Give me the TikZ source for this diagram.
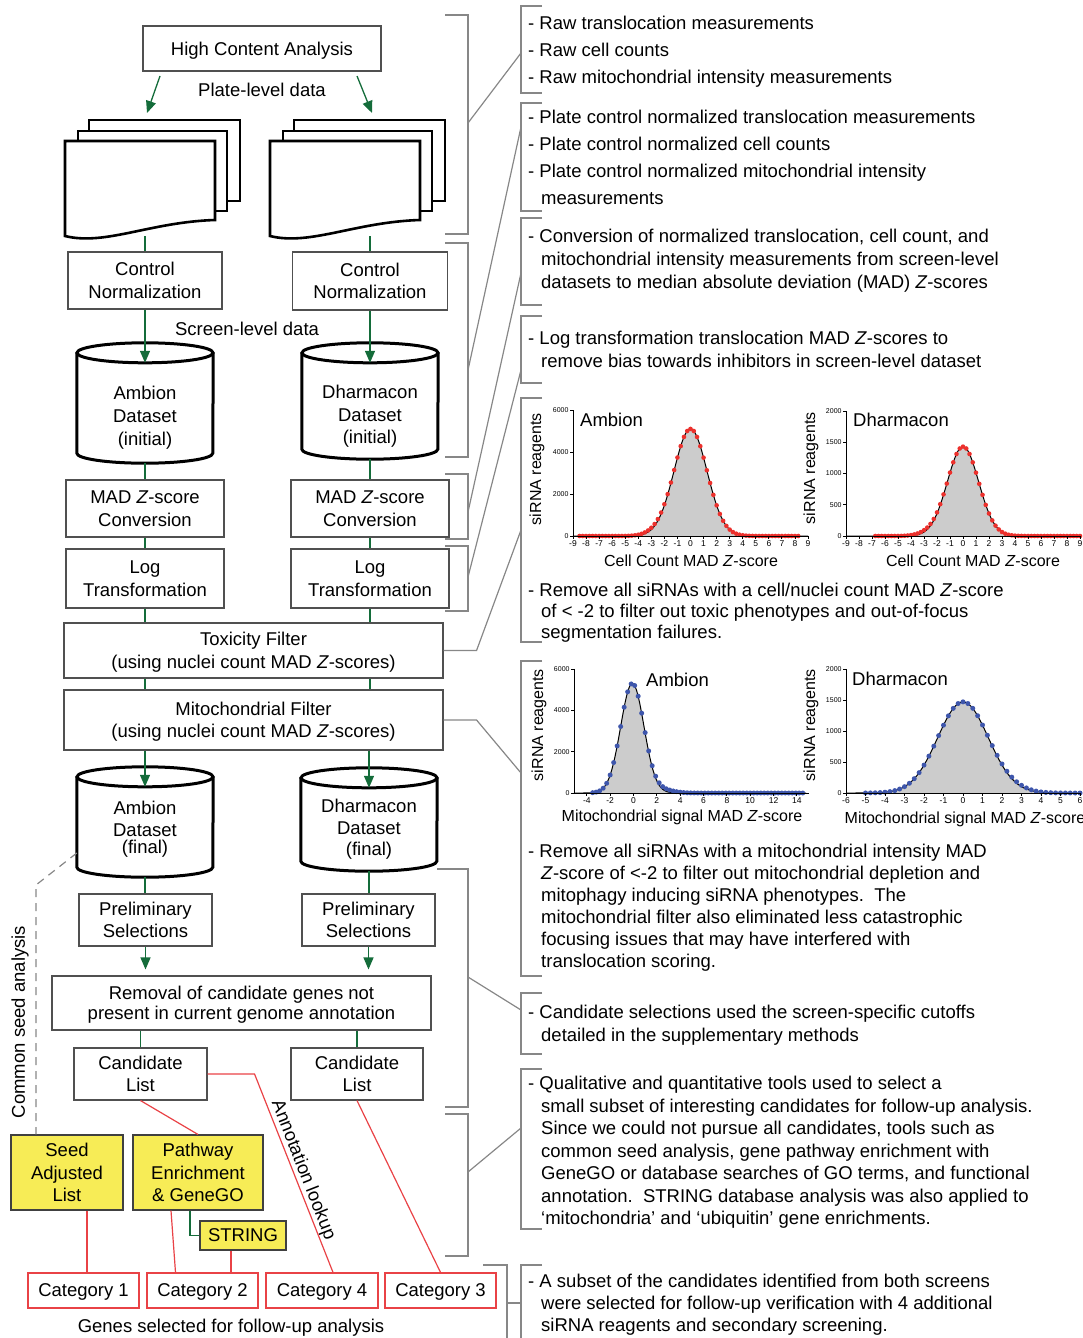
\documentclass[tikz,border=0pt]{standalone}
\usepackage{fontspec}
\setmainfont{Liberation Sans}
\usetikzlibrary{arrows.meta}

\definecolor{flowgreen}{RGB}{20,108,58}
\definecolor{catred}{RGB}{233,66,70}
\definecolor{hiyellow}{RGB}{247,236,86}
\definecolor{boxgray}{RGB}{80,80,80}
\definecolor{brkgray}{RGB}{135,135,135}
\definecolor{dotred}{RGB}{236,48,44}
\definecolor{dotblue}{RGB}{62,86,172}
\definecolor{chartfill}{RGB}{204,204,204}

\tikzset{
    box/.style={draw=boxgray, line width=1.1pt, align=center, inner sep=0pt, minimum height=57pt, text depth=-4pt},
    hibox/.style={box, draw=black!75, fill=hiyellow},
    catbox/.style={draw=catred, line width=1.3pt, inner sep=0pt, minimum width=111pt, minimum height=35pt, text depth=-4pt},
    cylbody/.style={inner sep=0pt, minimum width=136pt},
    cyltext/.style={align=center, inner sep=0pt},
    sheetarea/.style={inner sep=0pt, minimum width=150pt, minimum height=95pt},
    sheet/.style={draw=black, line width=2.6pt, fill=white},
    cylline/.style={draw=black, line width=3pt},
    flow/.style={draw=flowgreen, line width=1.3pt},
    flowarrow/.style={flow, -{Triangle[length=12pt, width=10pt]}},
    redline/.style={draw=catred, line width=1.2pt},
    brk/.style={draw=brkgray, line width=1.2pt},
    note/.style={anchor=north west, inner sep=0pt, align=left},
    axis/.style={draw=black, line width=0.9pt},
    fitline/.style={draw=black, line width=1pt},
    ticklab/.style={font=\fontsize{8.5}{10}\selectfont, inner sep=1pt},
    valab/.style={font=\fontsize{7}{8}\selectfont, inner sep=1pt},
    axtitle/.style={font=\fontsize{16}{18}\selectfont, inner sep=0pt}
}

\begin{document}
\begin{tikzpicture}[x=1pt, y=-1pt, font=\fontsize{18.5}{22.5}\selectfont]

            %\draw [help lines, step=50] (0,0) grid (1083,1338);
            \useasboundingbox (0,0) rectangle (1083,1338);

            \foreach \dx in {0,205} {
                \draw[sheet] (89+\dx,120) rectangle (240+\dx,201);
                \draw[sheet] (78+\dx,131) rectangle (227+\dx,211);
                \draw[sheet] (65+\dx,141) -- (215+\dx,141) -- (215+\dx,220)
                    .. controls (150+\dx,222) and (105+\dx,246) .. (65+\dx,236) -- cycle;
            }

            \path   (262,48.5) node (hca) [box, minimum width=238pt, minimum height=45pt] {High Content Analysis}
                    (262,90) node (pld) [] {Plate-level data}
                    (160,76) coordinate (ha)  (147,113) coordinate (hb)
                    (357,76) coordinate (hc)  (372,113) coordinate (hd)
                    (140,188.5) node (sl) [sheetarea] {}
                    (345,188.5) node (sr) [sheetarea] {}
                    (145,280.5) node (cnl) [box, minimum width=154pt] {Control\\Normalization}
                    (370,281) node (cnr) [box, minimum width=155pt, minimum height=58pt] {Control\\Normalization}
                    (247,329) node (sld) [] {Screen-level data}
                    (145,413) node (ai) [cylbody, minimum height=100pt] {}
                    (370,411) node (di) [cylbody, minimum height=96pt] {}
                    (145,418) node (ait) [cyltext, font=\fontsize{18.5}{23}\selectfont] {Ambion\\Dataset\\(initial)}
                    (370,416.5) node (dit) [cyltext, font=\fontsize{18.5}{22.5}\selectfont] {Dharmacon\\Dataset\\(initial)}
                    (145,508.5) node (mzl) [box, minimum width=158pt] {MAD \textit{Z}-score\\Conversion}
                    (370,508.5) node (mzr) [box, minimum width=158pt] {MAD \textit{Z}-score\\Conversion}
                    (145,578.5) node (ltl) [box, minimum width=158pt, minimum height=59pt] {Log\\Transformation}
                    (370,578.5) node (ltr) [box, minimum width=158pt, minimum height=59pt] {Log\\Transformation}
                    (253.5,650.5) node (tox) [box, minimum width=379pt, minimum height=55pt] {Toxicity Filter\\(using nuclei count MAD \textit{Z}-scores)}
                    (253.5,720) node (mito) [box, minimum width=379pt, minimum height=60pt] {Mitochondrial Filter\\(using nuclei count MAD \textit{Z}-scores)}
                    (145,832) node (af) [cylbody, minimum height=90pt] {}
                    (369,829.5) node (df) [cylbody, minimum height=83pt] {}
                    (145,829.5) node (aft) [cyltext, font=\fontsize{18.5}{22}\selectfont] {Ambion\\Dataset\\[-5pt](final)}
                    (369,829.5) node (dft) [cyltext, font=\fontsize{18.5}{21.5}\selectfont] {Dharmacon\\Dataset\\(final)}
                    (145.5,920) node (psl) [box, minimum width=133pt, minimum height=52pt] {Preliminary\\Selections}
                    (368.5,920) node (psr) [box, minimum width=133pt, minimum height=52pt] {Preliminary\\Selections}
                    (241.5,1003) node (rem) [box, minimum width=379pt, minimum height=54pt, font=\fontsize{18.5}{19.5}\selectfont] {Removal of candidate genes not\\present in current genome annotation}
                    (140.5,1074) node (cll) [box, minimum width=133pt, minimum height=52pt] {Candidate\\List}
                    (357,1074) node (clr) [box, minimum width=132pt, minimum height=52pt] {Candidate\\List}
                    (67,1172.5) node (seed) [hibox, minimum width=112pt, minimum height=75pt] {Seed\\Adjusted\\List}
                    (198,1172.5) node (pwy) [hibox, minimum width=130pt, minimum height=75pt] {Pathway\\Enrichment\\\& GeneGO}
                    (243,1235.5) node (str) [hibox, minimum width=86pt, minimum height=29pt] {STRING}
                    (83.5,1290.5) node (c1) [catbox] {Category 1}
                    (202.5,1290.5) node (c2) [catbox] {Category 2}
                    (322,1290.5) node (c4) [catbox, minimum width=112pt] {Category 4}
                    (440.5,1290.5) node (c3) [catbox] {Category 3}
                    (231,1328) node (gsf) [] {Genes selected for follow-up analysis}
                    (20,1022) node (csa) [rotate=90] {Common seed analysis}
                    (303,1170) node (anl) [rotate=-68.6] {Annotation lookup};

            \foreach \c in {ai,di,af,df} {
                \draw[cylline] ([yshift=10pt]\c.north) ellipse [x radius=68pt, y radius=10pt];
                \draw[cylline] ([yshift=10pt]\c.north west) -- ([yshift=10pt]\c.south west)
                    arc [start angle=180, end angle=360, x radius=68pt, y radius=10pt] -- ([yshift=10pt]\c.north east);
            }

            \draw[flowarrow] (ha) -- (hb);
            \draw[flowarrow] (hc) -- (hd);
            \draw[flow] (sl.south -| cnl.north) -- (cnl.north);
            \draw[flow] (sr.south -| cnr.north) -- (cnr.north);
            \draw[flowarrow] (cnl.south) -- (ai.north);
            \draw[flowarrow] (cnr.south) -- (di.north);
            \draw[flow] (ai.south) -- (mzl.north);
            \draw[flow] (di.south) -- (mzr.north);
            \draw[flow] (mzl.south) -- (ltl.north);
            \draw[flow] (mzr.south) -- (ltr.north);
            \draw[flow] (ltl.south) -- (ltl.south |- tox.north);
            \draw[flow] (ltr.south) -- (ltr.south |- tox.north);
            \draw[flow] (tox.south -| ltl.south) -- (mito.north -| ltl.south);
            \draw[flow] (tox.south -| ltr.south) -- (mito.north -| ltr.south);
            \draw[flowarrow] (mito.south -| af.north) -- (af.north);
            \draw[flowarrow] (mito.south -| df.north) -- (df.north);
            \draw[flow] (af.south) -- (af.south |- psl.north);
            \draw[flow] (df.south) -- (df.south |- psr.north);
            \draw[flowarrow, shorten >=6pt] (psl.south) -- (psl.south |- rem.north);
            \draw[flowarrow, shorten >=6pt] (psr.south) -- (psr.south |- rem.north);
            \draw[flow] (rem.south -| cll.north) -- (cll.north);
            \draw[flow] (rem.south -| clr.north) -- (clr.north);
            \draw[flow] ([xshift=-8pt]pwy.south) |- (str.west);

            \draw[redline] (cll.south) -- (pwy.north);
            \draw[redline] (cll.east) -- ++(47,0) -- ([xshift=11pt]c4.north);
            \draw[redline] (clr.south) -- (c3.north);
            \draw[redline] ([xshift=20pt]seed.south) -- ([xshift=20pt]seed.south |- c1.north);
            \draw[redline] ([xshift=-27pt]pwy.south) -- ([xshift=-27pt]c2.north);
            \draw[redline] ([xshift=-12pt]str.south) -- ([xshift=-12pt]str.south |- c2.north);

            \coordinate (sk) at (36,885);
            \draw[brkgray, line width=1.2pt, dash pattern=on 8pt off 6pt] ([yshift=-21pt]af.west) -- (sk) -- (seed.north -| sk);

            % brackets
            \foreach \x/\a/\b in {445/15/234, 445/243/457, 445/474/539, 445/546/611, 437/869/1107, 445/1114/1256}
                \draw[brk] (\x,\a) -| (468,\b) -- (445,\b);
            \foreach \a/\b in {123/53, 370/127, 512/273, 577/370, 977/1010, 1172/1128}
                \draw[brk] (468,\a) -- (521,\b);
            \foreach \a/\b in {6/93, 103/211, 218/305, 316/383, 398/642, 661/976, 993/1054, 1069/1229}
                \draw[brk] (542,\a) -| (521,\b) -- (542,\b);
            \draw[brk] (tox.east) -- ++(33,0) -- (521,530);
            \draw[brk] (mito.east) -- ++(33,0) -- (521,773);
            \draw[brk] (483,1265) -- (507,1265) -- (507,1338);
            \draw[brk] (507,1303) -- (521,1303);
            \draw[brk] (542,1265) -- (521,1265) -- (521,1338);

            \path   (528,16) node (n1) [note, font=\fontsize{18.5}{27}\selectfont] {- Raw translocation measurements\\- Raw cell counts\\- Raw mitochondrial intensity measurements}
                    (528,110) node (n2) [note, font=\fontsize{18.5}{27}\selectfont] {- Plate control normalized translocation measurements\\- Plate control normalized cell counts\\- Plate control normalized mitochondrial intensity\\\hspace*{13pt}measurements}
                    (528,229) node (n3) [note, font=\fontsize{18.5}{23}\selectfont] {- Conversion of normalized translocation, cell count, and\\\hspace*{13pt}mitochondrial intensity measurements from screen-level\\\hspace*{13pt}datasets to median absolute deviation (MAD) \textit{Z}-scores}
                    (528,331) node (n4) [note, font=\fontsize{18.5}{23}\selectfont] {- Log transformation translocation MAD \textit{Z}-scores to\\\hspace*{13pt}remove bias towards inhibitors in screen-level dataset}
                    (528,583) node (n5) [note, font=\fontsize{18.5}{21}\selectfont] {- Remove all siRNAs with a cell/nuclei count MAD \textit{Z}-score\\\hspace*{13pt}of < -2 to filter out toxic phenotypes and out-of-focus\\\hspace*{13pt}segmentation failures.}
                    (528,844) node (n6) [note, font=\fontsize{18.5}{22}\selectfont] {- Remove all siRNAs with a mitochondrial intensity MAD\\\hspace*{13pt}\textit{Z}-score of <-2 to filter out mitochondrial depletion and\\\hspace*{13pt}mitophagy inducing siRNA phenotypes.\ \ The\\\hspace*{13pt}mitochondrial filter also eliminated less catastrophic\\\hspace*{13pt}focusing issues that may have interfered with\\\hspace*{13pt}translocation scoring.}
                    (528,1005) node (n7) [note, font=\fontsize{18.5}{23}\selectfont] {- Candidate selections used the screen-specific cutoffs\\\hspace*{13pt}detailed in the supplementary methods}
                    (528,1076) node (n8) [note, font=\fontsize{18.5}{22.5}\selectfont] {- Qualitative and quantitative tools used to select a\\\hspace*{13pt}small subset of interesting candidates for follow-up analysis.\\\hspace*{13pt}Since we could not pursue all candidates, tools such as\\\hspace*{13pt}common seed analysis, gene pathway enrichment with\\\hspace*{13pt}GeneGO or database searches of GO terms, and functional\\\hspace*{13pt}annotation.\ \ STRING database analysis was also applied to\\\hspace*{13pt}‘mitochondria’ and ‘ubiquitin’ gene enrichments.}
                    (528,1274) node (n9) [note, font=\fontsize{18.5}{22}\selectfont] {- A subset of the candidates identified from both screens\\\hspace*{13pt}were selected for follow-up verification with 4 additional\\\hspace*{13pt}siRNA reagents and secondary screening.};

            % charts
            \begin{scope}[shift={(690.5,536)}, x=13.06pt, y=0.021pt]
                \fill[chartfill] plot[domain=-9:9, samples=145] (\x,{5100*exp(-(\x)^2/3.2)+90*exp(-(\x+2.8)^2/1.2)}) -- cycle;
                \draw[fitline] plot[domain=-9:9, samples=145] (\x,{5100*exp(-(\x)^2/3.2)});
                \foreach \z in {-8.5,-8.25,...,8.3}
                    \fill[dotred] (\z,{5100*exp(-(\z)^2/3.2)+90*exp(-(\z+2.8)^2/1.2)}) circle (2.3pt);
                \draw[axis] (-9,6000) -- (-9,0) -- (9.1,0);
                \foreach \t in {-9,...,9}
                    \draw[axis] (\t,0) -- ([yshift=-3pt]\t,0) node[ticklab, anchor=north] (ka\t) {\t};
                \foreach \v in {0,2000,4000,6000}
                    \draw[axis] (-9,\v) -- ([xshift=-3pt]-9,\v) node[valab, anchor=east] (kb\v) {\v};
            \end{scope}

            \begin{scope}[shift={(963,536)}, x=13pt, y=0.0625pt]
                \fill[chartfill] plot[domain=-9:9, samples=145] (\x,{1430*exp(-(\x)^2/2.9)+30*exp(-(\x+2.8)^2/1.2)}) -- cycle;
                \draw[fitline] plot[domain=-9:9, samples=145] (\x,{1430*exp(-(\x)^2/2.9)});
                \foreach \z in {-6.75,-6.5,...,9.1}
                    \fill[dotred] (\z,{1430*exp(-(\z)^2/2.9)+30*exp(-(\z+2.8)^2/1.2)}) circle (2.3pt);
                \draw[axis] (-9,2000) -- (-9,0) -- (9.1,0);
                \foreach \t in {-9,...,9}
                    \draw[axis] (\t,0) -- ([yshift=-3pt]\t,0) node[ticklab, anchor=north] (kc\t) {\t};
                \foreach \v in {0,500,1000,1500,2000}
                    \draw[axis] (-9,\v) -- ([xshift=-3pt]-9,\v) node[valab, anchor=east] (kd\v) {\v};
            \end{scope}

            \begin{scope}[shift={(633.5,793)}, x=11.67pt, y=0.02067pt]
                \fill[chartfill] plot[domain=-5.1:14.8, samples=160] (\x,{5300*exp(-(\x+0.1)^2/2)+130*exp(-(\x-2.6)^2/1.6)}) -- cycle;
                \draw[fitline] plot[domain=-5.1:14.8, samples=160] (\x,{5300*exp(-(\x+0.1)^2/2)});
                \foreach \z in {-3.5,-3.2,...,14.8}
                    \fill[dotblue] (\z,{5300*exp(-(\z+0.1)^2/2)+130*exp(-(\z-2.6)^2/1.6)}) circle (2.5pt);
                \draw[axis] (-5.1,6000) -- (-5.1,0) -- (15,0);
                \foreach \t in {-4,-2,...,14}
                    \draw[axis] (\t,0) -- ([yshift=-3pt]\t,0) node[ticklab, anchor=north] (ke\t) {\t};
                \foreach \v in {0,2000,4000,6000}
                    \draw[axis] (-5.1,\v) -- ([xshift=-3pt]-5.1,\v) node[valab, anchor=east] (kf\v) {\v};
            \end{scope}

            \begin{scope}[shift={(963,793)}, x=19.5pt, y=0.062pt]
                \fill[chartfill] plot[domain=-6:6, samples=121] (\x,{1470*exp(-(\x)^2/3.38)+25*exp(-(\x-2.6)^2/1.2)}) -- cycle;
                \draw[fitline] plot[domain=-6:6, samples=121] (\x,{1470*exp(-(\x)^2/3.38)});
                \foreach \z in {-5,-4.75,...,6.05}
                    \fill[dotblue] (\z,{1470*exp(-(\z)^2/3.38)+25*exp(-(\z-2.6)^2/1.2)}) circle (2.5pt);
                \draw[axis] (-6,2000) -- (-6,0) -- (6.05,0);
                \foreach \t in {-6,...,6}
                    \draw[axis] (\t,0) -- ([yshift=-3pt]\t,0) node[ticklab, anchor=north] (kg\t) {\t};
                \foreach \v in {0,500,1000,1500,2000}
                    \draw[axis] (-6,\v) -- ([xshift=-3pt]-6,\v) node[valab, anchor=east] (kh\v) {\v};
            \end{scope}

            \path   (537,469) node (ya1) [axtitle, rotate=90] {siRNA reagents}
                    (811,468) node (ya2) [axtitle, rotate=90] {siRNA reagents}
                    (539,725) node (ya3) [axtitle, rotate=90] {siRNA reagents}
                    (811,725) node (ya4) [axtitle, rotate=90] {siRNA reagents}
                    (691,561) node (xa1) [axtitle] {Cell Count MAD \textit{Z}-score}
                    (973,561) node (xa2) [axtitle] {Cell Count MAD \textit{Z}-score}
                    (682,817) node (xa3) [axtitle] {Mitochondrial signal MAD \textit{Z}-score}
                    (965,819) node (xa4) [axtitle] {Mitochondrial signal MAD \textit{Z}-score}
                    (580,420) node (ta1) [anchor=west, inner sep=0pt] {Ambion}
                    (853,420) node (ta2) [anchor=west, inner sep=0pt] {Dharmacon}
                    (646,680) node (ta3) [anchor=west, inner sep=0pt] {Ambion}
                    (852,679) node (ta4) [anchor=west, inner sep=0pt] {Dharmacon};

\end{tikzpicture}
\end{document}
